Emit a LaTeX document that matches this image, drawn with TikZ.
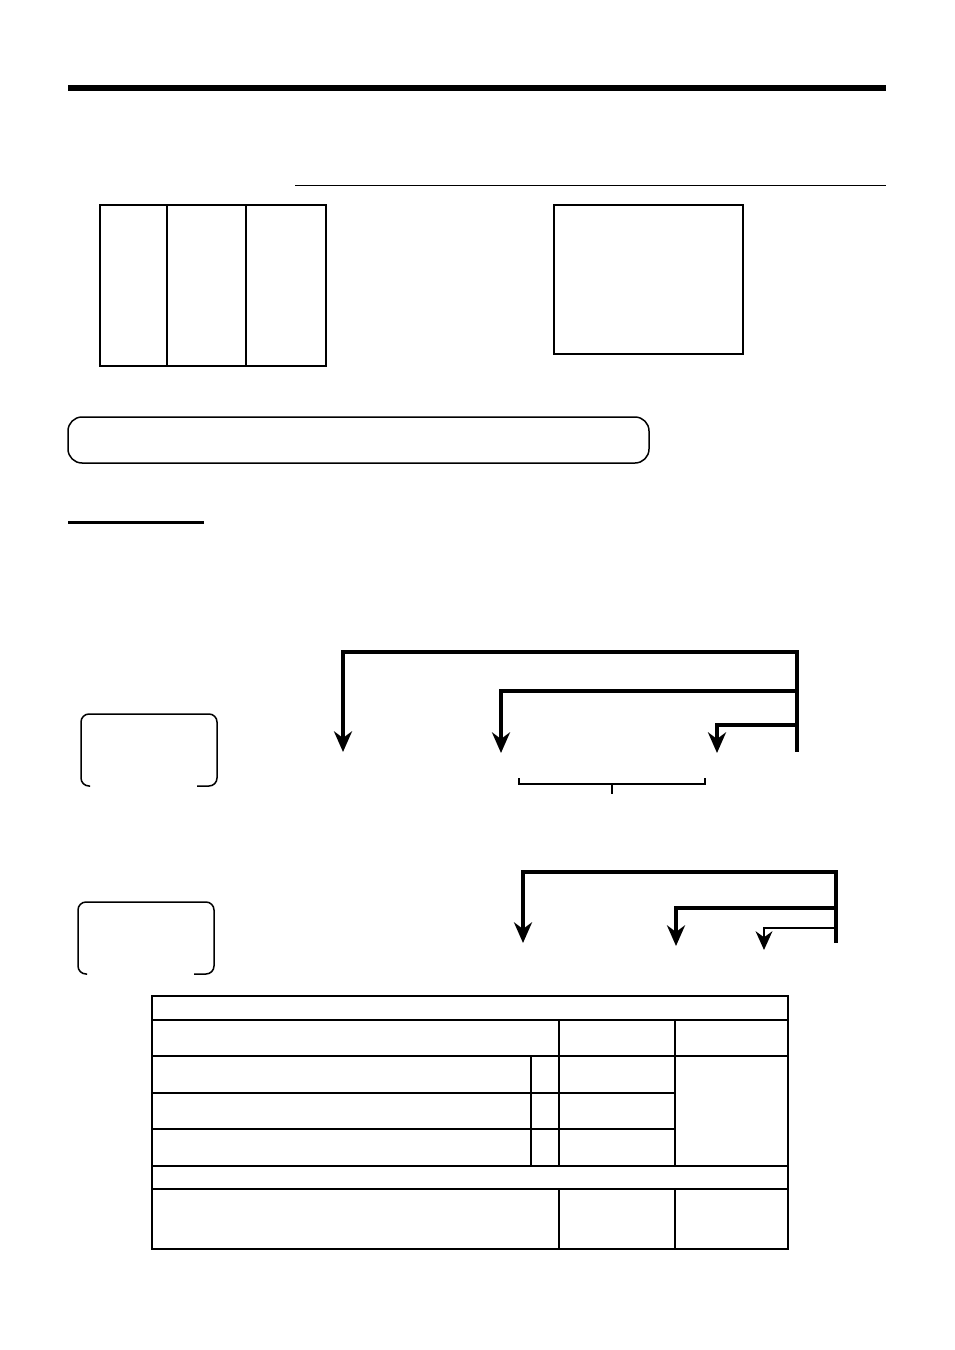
\documentclass[tikz,border=0pt]{standalone}
\usetikzlibrary{arrows.meta}
\begin{document}
\begin{tikzpicture}[x=0.3mm,y=-0.3mm,line join=miter]
		\tikzset{thinline/.style={line width=0.4mm},
			thickline/.style={line width=0.6mm},
			keyline/.style={line width=1.15mm,-{Stealth[length=6.2mm,width=5.4mm,inset=2mm]}},
			keybox/.style={line width=0.45mm,rounded corners=2.4mm}}
		\useasboundingbox (0,0) rectangle (954,1350);
		% header rules
		\fill (68,85) rectangle (886,91);
		\draw[line width=0.3mm] (295,185.5)--(886,185.5);
		% display boxes
		\draw[line width=0.6mm] (100,205) rectangle (326,366);
		\foreach \x in {167,246}
		\draw[thinline] (\x,205)--(\x,366);
		\draw[thinline] (554,205) rectangle (743,354);
		\draw[line width=0.45mm,rounded corners=4.2mm] (68,417) rectangle (649,463);
		\draw[line width=0.9mm] (68,522)--(204,522);
		% first key sequence
		\draw[keybox] (90,786)--(81,786)--(81,714)--(217,714)--(217,786)--(197,786);
		\coordinate (bartop) at (797,650);
		\coordinate (barend) at (797,752);
		\draw[line width=1.15mm] (bartop)--(barend);
		\draw[keyline] (797,652) -| (343,752);
		\draw[keyline] (797,691) -| (501,753);
		\draw[keyline] (797,725) -| (717,753);
		\draw[line width=0.45mm] (519,778)--(519,784)--(705,784)--(705,778) (612,784)--(612,794);
		% second key sequence
		\draw[keybox] (87,974)--(78,974)--(78,902)--(214,902)--(214,974)--(194,974);
		\draw[line width=1.05mm] (836,870)--(836,943);
		\draw[keyline,line width=1.05mm] (836,872) -| (523,943);
		\draw[keyline,line width=1.05mm] (836,908) -| (676,946);
		\draw[line width=0.85mm,-{Stealth[length=5.6mm,width=5mm,inset=1.8mm]}] (836,928) -| (764,950);
		% table
		\draw[line width=0.75mm] (152,996) rectangle (788,1249);
		\draw[thinline] (152,1020)--(788,1020);
		\draw[thickline] (152,1056)--(788,1056) (152,1166)--(788,1166) (152,1189)--(788,1189);
		\draw[thinline] (152,1093)--(675,1093) (152,1129)--(675,1129);
		\draw[thinline] (531,1056)--(531,1166);
		\foreach \x in {559,675}
		\draw[thickline] (\x,1020)--(\x,1166) (\x,1189)--(\x,1249);
		
\end{tikzpicture}
\end{document}
